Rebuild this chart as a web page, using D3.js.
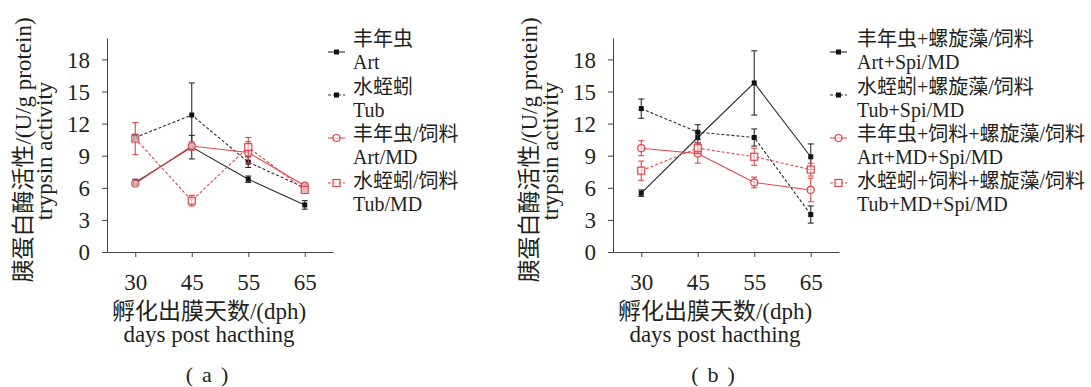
<!DOCTYPE html>
<html>
<head>
<meta charset="utf-8">
<script src="https://cdn.jsdelivr.net/npm/d3@7"></script>
<style>
  html, body { margin: 0; padding: 0; background: #fff; }
  text { font-family: "Liberation Serif", "Noto Sans CJK SC", serif; fill: #231f20; }
</style>
</head>
<body>
<script>
// Categories and tick values
const days = ["30", "45", "55", "65"];
const yTicks = [0, 3, 6, 9, 12, 15, 18];

// Panel (a): trypsin activity, mean and error
const artA = [6.5, 9.8, 6.8, 4.4];
const artAErr = [0.3, 1.1, 0.3, 0.4];
const tubA = [10.7, 12.8, 8.4, 6.0];
const tubAErr = [0.3, 3.0, 0.5, 0.3];
const artMdA = [6.4, 9.9, 9.3, 6.2];
const artMdAErr = [0.2, 0.4, 1.0, 0.2];
const tubMdA = [10.6, 4.8, 9.8, 5.8];
const tubMdAErr = [1.5, 0.5, 0.9, 0.3];

// Panel (b)
const artSpiB = [5.5, 10.7, 15.8, 8.9];
const artSpiBErr = [0.3, 0.5, 3.0, 1.2];
const tubSpiB = [13.4, 11.2, 10.7, 3.5];
const tubSpiBErr = [0.9, 0.7, 0.8, 0.8];
const artMdSpiB = [9.7, 9.2, 6.5, 5.8];
const artMdSpiBErr = [0.7, 0.9, 0.5, 1.1];
const tubMdSpiB = [7.6, 9.7, 8.9, 7.7];
const tubMdSpiBErr = [0.9, 0.5, 0.8, 0.6];

// Legend labels (two lines each)
const legendA = [["丰年虫", "Art"], ["水蛭蚓", "Tub"], ["丰年虫/饲料", "Art/MD"], ["水蛭蚓/饲料", "Tub/MD"]];
const legendB = [["丰年虫+螺旋藻/饲料", "Art+Spi/MD"], ["水蛭蚓+螺旋藻/饲料", "Tub+Spi/MD"],
                 ["丰年虫+饲料+螺旋藻/饲料", "Art+MD+Spi/MD"], ["水蛭蚓+饲料+螺旋藻/饲料", "Tub+MD+Spi/MD"]];

const BLACK = "#2b2b2b";
const RED = "#e0454a";

const styles = [
  { color: BLACK, dash: null, marker: "fsquare" },
  { color: BLACK, dash: "3,2", marker: "fsquare" },
  { color: RED, dash: null, marker: "circle" },
  { color: RED, dash: "3,2", marker: "square" }
];

const W = 1091, H = 387;
const svg = d3.select("body").append("svg").attr("width", W).attr("height", H);

function drawMarker(g, type, cx, cy, color) {
  if (type === "fsquare") {
    g.append("rect").attr("x", cx - 2.5).attr("y", cy - 2.5).attr("width", 5).attr("height", 5)
      .attr("fill", "#111");
  } else if (type === "square") {
    g.append("rect").attr("x", cx - 3.5).attr("y", cy - 3.5).attr("width", 7).attr("height", 7)
      .attr("fill", "#fff").attr("fill-opacity", 0.6).attr("stroke", color).attr("stroke-width", 1.2);
  } else {
    g.append("circle").attr("cx", cx).attr("cy", cy).attr("r", 3.5)
      .attr("fill", "#fff").attr("fill-opacity", 0.6).attr("stroke", color).attr("stroke-width", 1.2);
  }
}

function panel(dx, series, legend, tag) {
  const g = svg.append("g");
  const x = d3.scalePoint().domain(days).range([107 + dx, 333 + dx]).padding(0.5);
  const y = d3.scaleLinear().domain([0, 20]).range([252, 38]);

  // y axis
  const ya = g.append("g").attr("transform", `translate(${107 + dx},0)`)
    .call(d3.axisLeft(y).tickValues(yTicks).tickSize(5).tickPadding(12).tickSizeOuter(0));
  // x axis
  const xa = g.append("g").attr("transform", "translate(0,252)")
    .call(d3.axisBottom(x).tickSize(5).tickSizeOuter(0));
  [ya, xa].forEach(a => {
    a.attr("font-family", null).attr("font-size", null);
    a.selectAll("path, line").attr("stroke", "#444").attr("stroke-width", 1);
    a.selectAll("text").style("font-size", "23px").attr("fill", "#231f20");
  });
  ya.selectAll("text").attr("dy", "0.34em");
  xa.selectAll("text").attr("y", 38).attr("dy", 0);

  // y-axis title
  const yt = g.append("g");
  yt.append("text").attr("transform", `translate(${31 + dx},150) rotate(-90)`)
    .attr("text-anchor", "middle").style("font-size", "23px").text("胰蛋白酶活性/(U/g protein)");
  yt.append("text").attr("transform", `translate(${52 + dx},151) rotate(-90)`)
    .attr("text-anchor", "middle").style("font-size", "23px").text("trypsin activity");

  // x-axis title and panel tag
  const cx = 209 + dx;
  g.append("text").attr("x", cx).attr("y", 319).attr("text-anchor", "middle")
    .style("font-size", "23px").text("孵化出膜天数/(dph)");
  g.append("text").attr("x", cx).attr("y", 342).attr("text-anchor", "middle")
    .style("font-size", "23px").text("days post hacthing");
  const tg = g.append("text").attr("x", cx - 2).attr("y", 382).attr("text-anchor", "middle")
    .style("font-size", "22px");
  tg.append("tspan").text("(");
  tg.append("tspan").attr("dx", 9).text(tag);
  tg.append("tspan").attr("dx", 9).text(")");

  // series: lines, error bars, markers
  series.forEach((s, i) => {
    const st = styles[i];
    const sg = g.append("g");
    const line = d3.line().x((d, k) => x(days[k])).y(d => y(d));
    sg.append("path").datum(s.values).attr("d", line).attr("fill", "none")
      .attr("stroke", st.color).attr("stroke-width", 1.1)
      .attr("stroke-dasharray", st.dash);
    s.values.forEach((v, k) => {
      const px = x(days[k]);
      const e = s.err[k];
      sg.append("line").attr("x1", px).attr("x2", px).attr("y1", y(v - e)).attr("y2", y(v + e))
        .attr("stroke", st.color).attr("stroke-width", 1.1);
      [v - e, v + e].forEach(t => {
        sg.append("line").attr("x1", px - 3).attr("x2", px + 3).attr("y1", y(t)).attr("y2", y(t))
          .attr("stroke", st.color).attr("stroke-width", 1.1);
      });
      drawMarker(sg, st.marker, px, y(v), st.color);
    });
  });

  // legend
  const lx = 328 + dx + (dx > 0 ? -4 : 0);
  const tops = [30, 78, 125, 172];
  const marks = [52, 95, 138, 183];
  legend.forEach((lab, i) => {
    const st = styles[i];
    const lg = g.append("g");
    const my = marks[i];
    lg.append("line").attr("x1", lx).attr("x2", lx + 17).attr("y1", my).attr("y2", my)
      .attr("stroke", st.color).attr("stroke-width", 1.1).attr("stroke-dasharray", st.dash);
    drawMarker(lg, st.marker, lx + 8.5, my, st.color);
    const tx = lx + 25 + (dx > 0 ? 2 : 0);
    lg.append("text").attr("x", tx).attr("y", tops[i] + 16).style("font-size", "20px").text(lab[0]);
    lg.append("text").attr("x", tx).attr("y", tops[i] + 39).style("font-size", "20px").text(lab[1]);
  });
}

panel(0, [
  { values: artA, err: artAErr },
  { values: tubA, err: tubAErr },
  { values: artMdA, err: artMdAErr },
  { values: tubMdA, err: tubMdAErr }
], legendA, "a");

panel(506, [
  { values: artSpiB, err: artSpiBErr },
  { values: tubSpiB, err: tubSpiBErr },
  { values: artMdSpiB, err: artMdSpiBErr },
  { values: tubMdSpiB, err: tubMdSpiBErr }
], legendB, "b");
</script>
</body>
</html>
